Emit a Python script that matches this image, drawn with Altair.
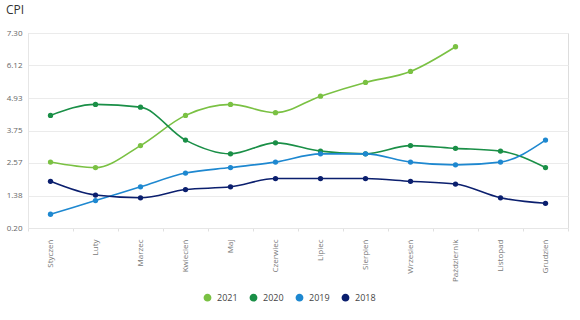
import altair as alt
import pandas as pd

months = ["Styczeń", "Luty", "Marzec", "Kwiecień", "Maj", "Czerwiec", "Lipiec",
          "Sierpień", "Wrzesień", "Październik", "Listopad", "Grudzień"]
cpi_2021 = [2.6, 2.4, 3.2, 4.3, 4.7, 4.4, 5.0, 5.5, 5.9, 6.8]
cpi_2020 = [4.3, 4.7, 4.6, 3.4, 2.9, 3.3, 3.0, 2.9, 3.2, 3.1, 3.0, 2.4]
cpi_2019 = [0.7, 1.2, 1.7, 2.2, 2.4, 2.6, 2.9, 2.9, 2.6, 2.5, 2.6, 3.4]
cpi_2018 = [1.9, 1.4, 1.3, 1.6, 1.7, 2.0, 2.0, 2.0, 1.9, 1.8, 1.3, 1.1]
years = ["2021", "2020", "2019", "2018"]
colors = ["#7ac143", "#1a8f47", "#1e88d0", "#0b1f6e"]
y_ticks = [0.20, 1.38, 2.57, 3.75, 4.93, 6.12, 7.30]

rows = []
for yr, vals in zip(years, [cpi_2021, cpi_2020, cpi_2019, cpi_2018]):
    for m, v in zip(months, vals):
        rows.append({"month": m, "cpi": v, "year": yr})
df = pd.DataFrame(rows)

FONT = "Open Sans"

x = alt.X("month:N", sort=months, title=None,
          scale=alt.Scale(paddingInner=0, paddingOuter=0),
          axis=alt.Axis(labelAngle=-90, labelAlign="right", labelBaseline="middle",
                        labelPadding=8, labelFontSize=8, labelColor="#777777",
                        labelFont=FONT, tickBand="extent", tickSize=3,
                        tickColor="#e0e0e0", domainColor="#e6e6e6", grid=False))
y = alt.Y("cpi:Q", title=None,
          scale=alt.Scale(domain=[0.2, 7.3], nice=False, zero=False),
          axis=alt.Axis(values=y_ticks, format=".2f", labelFontSize=8,
                        labelColor="#666666", labelFont=FONT, tickSize=0,
                        labelPadding=6, gridColor="#ebebeb", domainColor="#e6e6e6"))
color = alt.Color("year:N", scale=alt.Scale(domain=years, range=colors),
                  legend=alt.Legend(title=None, orient="none", direction="horizontal",
                                    legendX=175, legendY=260, symbolType="circle",
                                    symbolSize=40, labelFontSize=9, labelColor="#444444",
                                    labelFont=FONT, columnPadding=9, labelOffset=5))

base = alt.Chart(df).encode(x=x, y=y, color=color)
lines = base.mark_line(interpolate="monotone", strokeWidth=1.6)
points = base.mark_point(filled=True, size=28, opacity=1)

chart = alt.layer(lines, points).properties(
    width=540, height=195,
    title=alt.TitleParams("CPI", anchor="start", frame="group", dx=-22, offset=12,
                          fontSize=12, fontWeight="normal", color="#333333", font=FONT),
    autosize=alt.AutoSizeParams(type="none"),
    padding={"left": 28, "top": 33, "right": 12, "bottom": 92},
).configure_view(stroke=None).configure(background="white")

chart.save("out.html", embed_options={"renderer": "svg", "actions": False})
